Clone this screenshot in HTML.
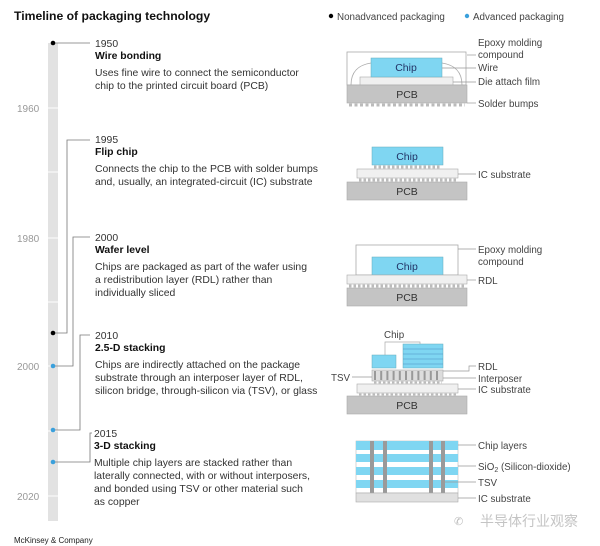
<!DOCTYPE html>
<html><head><meta charset="utf-8"><style>
html,body{margin:0;padding:0;background:#fff;}
svg{display:block;font-family:"Liberation Sans",Arial,sans-serif;}
.t{font-size:10.4px;fill:#333;}
.b{font-size:10.4px;font-weight:bold;fill:#111;}
.y{font-size:10px;fill:#999;}
.l{font-size:9.8px;fill:#444;}
</style></head><body>
<svg width="600" height="546" viewBox="0 0 600 546">
<text x="14" y="20" style="font-size:12.2px;font-weight:bold;fill:#111">Timeline of packaging technology</text>
<circle cx="331" cy="16" r="2.2" fill="#000"/><text x="337" y="20" class="l">Nonadvanced packaging</text>
<circle cx="467" cy="16" r="2.2" fill="#3aa0dc"/><text x="473" y="20" class="l">Advanced packaging</text>

<rect x="48" y="43" width="10" height="478" fill="#e2e2e2"/>
<g stroke="#fff" stroke-width="1"><line x1="48" y1="108" x2="58" y2="108"/><line x1="48" y1="172" x2="58" y2="172"/><line x1="48" y1="238" x2="58" y2="238"/><line x1="48" y1="302" x2="58" y2="302"/><line x1="48" y1="366" x2="58" y2="366"/><line x1="48" y1="431" x2="58" y2="431"/><line x1="48" y1="496" x2="58" y2="496"/></g>
<text x="17" y="112" class="y">1960</text>
<text x="17" y="242" class="y">1980</text>
<text x="17" y="370" class="y">2000</text>
<text x="17" y="500" class="y">2020</text>

<g stroke="#777" stroke-width="0.8" fill="none">
<polyline points="53,43 90,43"/>
<polyline points="90,140 67,140 67,333 53,333"/>
<polyline points="90,237 73,237 73,366 53,366"/>
<polyline points="90,335 80,335 80,430 53,430"/>
<polyline points="92,433 90,433 90,462 53,462"/>
</g>
<circle cx="53" cy="43" r="2.3" fill="#000"/>
<circle cx="53" cy="333" r="2.3" fill="#000"/>
<circle cx="53" cy="366" r="2.3" fill="#3aa0dc"/>
<circle cx="53" cy="430" r="2.3" fill="#3aa0dc"/>
<circle cx="53" cy="462" r="2.3" fill="#3aa0dc"/>

<text x="95" y="47" class="t">1950</text>
<text x="95" y="59" class="b">Wire bonding</text>
<text x="95" y="76" class="t">Uses fine wire to connect the semiconductor</text>
<text x="95" y="89" class="t">chip to the printed circuit board (PCB)</text>

<text x="95" y="143" class="t">1995</text>
<text x="95" y="155" class="b">Flip chip</text>
<text x="95" y="172" class="t">Connects the chip to the PCB with solder bumps</text>
<text x="95" y="185" class="t">and, usually, an integrated-circuit (IC) substrate</text>

<text x="95" y="241" class="t">2000</text>
<text x="95" y="253" class="b">Wafer level</text>
<text x="95" y="270" class="t">Chips are packaged as part of the wafer using</text>
<text x="95" y="283" class="t">a redistribution layer (RDL) rather than</text>
<text x="95" y="296" class="t">individually sliced</text>

<text x="95" y="339" class="t">2010</text>
<text x="95" y="351" class="b">2.5-D stacking</text>
<text x="95" y="368" class="t">Chips are indirectly attached on the package</text>
<text x="95" y="381" class="t">substrate through an interposer layer of RDL,</text>
<text x="95" y="394" class="t">silicon bridge, through-silicon via (TSV), or glass</text>

<text x="94" y="437" class="t">2015</text>
<text x="94" y="449" class="b">3-D stacking</text>
<text x="94" y="466" class="t">Multiple chip layers are stacked rather than</text>
<text x="94" y="479" class="t">laterally connected, with or without interposers,</text>
<text x="94" y="492" class="t">and bonded using TSV or other material such</text>
<text x="94" y="505" class="t">as copper</text>

<text x="14" y="543" style="font-size:8px;fill:#222">McKinsey &amp; Company</text>

<rect x="347" y="52" width="119" height="33" fill="#fff" stroke="#aaa" stroke-width="0.8"/>
<path d="M351,85 Q351,66 371,63" fill="none" stroke="#aaa" stroke-width="0.8"/>
<path d="M462,85 Q462,66 442,63" fill="none" stroke="#aaa" stroke-width="0.8"/>
<rect x="360" y="77" width="93" height="8" fill="#f0f0f0" stroke="#aaa" stroke-width="0.6"/>
<rect x="371" y="58" width="71" height="19" fill="#7fd6f2" stroke="#6ab" stroke-width="0.5"/>
<text x="406" y="71" class="l" text-anchor="middle" style="fill:#236;font-size:10.5px">Chip</text>
<rect x="347" y="85" width="120" height="18" fill="#c4c4c4" stroke="#aaa" stroke-width="0.6"/>
<text x="407" y="98" class="l" text-anchor="middle" style="fill:#333;font-size:10.5px">PCB</text>
<line x1="349" y1="105" x2="465" y2="105" stroke="#bbb" stroke-width="3" stroke-dasharray="3,2.5"/>

<rect x="372" y="147" width="71" height="18" fill="#7fd6f2" stroke="#6ab" stroke-width="0.5"/>
<text x="407" y="160" class="l" text-anchor="middle" style="fill:#236;font-size:10.5px">Chip</text>
<line x1="374" y1="167" x2="441" y2="167" stroke="#bbb" stroke-width="3" stroke-dasharray="2.5,2"/>
<rect x="357" y="169" width="101" height="9" fill="#f0f0f0" stroke="#aaa" stroke-width="0.6"/>
<line x1="359" y1="180" x2="456" y2="180" stroke="#bbb" stroke-width="3" stroke-dasharray="2.5,2"/>
<rect x="347" y="182" width="120" height="18" fill="#c4c4c4" stroke="#aaa" stroke-width="0.6"/>
<text x="407" y="195" class="l" text-anchor="middle" style="fill:#333;font-size:10.5px">PCB</text>

<rect x="356" y="245" width="102" height="30" fill="#fff" stroke="#aaa" stroke-width="0.8"/>
<rect x="372" y="257" width="71" height="18" fill="#7fd6f2" stroke="#6ab" stroke-width="0.5"/>
<text x="407" y="270" class="l" text-anchor="middle" style="fill:#236;font-size:10.5px">Chip</text>
<rect x="347" y="275" width="120" height="9" fill="#f0f0f0" stroke="#aaa" stroke-width="0.6"/>
<line x1="349" y1="286" x2="465" y2="286" stroke="#bbb" stroke-width="3" stroke-dasharray="2.5,2"/>
<rect x="347" y="288" width="120" height="18" fill="#c4c4c4" stroke="#aaa" stroke-width="0.6"/>
<text x="407" y="301" class="l" text-anchor="middle" style="fill:#333;font-size:10.5px">PCB</text>

<text x="384" y="338" class="l">Chip</text>
<polyline points="385,355 385,342 420,342 420,344" fill="none" stroke="#aaa" stroke-width="0.7"/>
<rect x="372" y="355" width="24" height="13" fill="#7fd6f2" stroke="#6ab" stroke-width="0.5"/>
<rect x="403" y="344" width="40" height="24" fill="#7fd6f2" stroke="#6ab" stroke-width="0.5"/>
<g stroke="#4a8fc0" stroke-width="0.6"><line x1="403" y1="349" x2="443" y2="349"/><line x1="403" y1="354" x2="443" y2="354"/><line x1="403" y1="359" x2="443" y2="359"/><line x1="403" y1="364" x2="443" y2="364"/></g>
<rect x="372" y="370" width="71" height="11" fill="#ddd" stroke="#aaa" stroke-width="0.6"/>
<line x1="374" y1="375.5" x2="442" y2="375.5" stroke="#999" stroke-width="9" stroke-dasharray="2,4.2"/>
<line x1="352" y1="377" x2="372" y2="377" stroke="#999" stroke-width="0.7"/>
<line x1="374" y1="382.5" x2="442" y2="382.5" stroke="#bbb" stroke-width="2" stroke-dasharray="2.5,2"/>
<rect x="357" y="384" width="101" height="9" fill="#f0f0f0" stroke="#aaa" stroke-width="0.6"/>
<line x1="359" y1="394.5" x2="456" y2="394.5" stroke="#bbb" stroke-width="2" stroke-dasharray="2.5,2"/>
<rect x="347" y="396" width="120" height="18" fill="#c4c4c4" stroke="#aaa" stroke-width="0.6"/>
<text x="407" y="409" class="l" text-anchor="middle" style="fill:#333;font-size:10.5px">PCB</text>
<text x="331" y="381" class="l">TSV</text>

<rect x="356" y="441" width="102" height="52" fill="#fff" stroke="#aaa" stroke-width="0.5"/>
<g fill="#7fd6f2"><rect x="356" y="441" width="102" height="9"/><rect x="356" y="454" width="102" height="8"/><rect x="356" y="467" width="102" height="8"/><rect x="356" y="480" width="102" height="8"/></g>
<g fill="#9a9a9a"><rect x="370" y="441" width="4" height="52"/><rect x="383" y="441" width="4" height="52"/><rect x="429" y="441" width="4" height="52"/><rect x="441" y="441" width="4" height="52"/></g>
<rect x="356" y="493" width="102" height="9" fill="#e0e0e0" stroke="#aaa" stroke-width="0.6"/>

<g stroke="#999" stroke-width="0.7">
<line x1="467" y1="55" x2="476" y2="55"/><line x1="442" y1="68" x2="476" y2="68"/><line x1="453" y1="82" x2="476" y2="82"/><line x1="467" y1="103" x2="476" y2="103"/>
<line x1="458" y1="174" x2="476" y2="174"/>
<line x1="458" y1="249" x2="476" y2="249"/><line x1="467" y1="280" x2="476" y2="280"/>
<polyline points="443,371 469,371 469,366 476,366" fill="none"/><line x1="443" y1="378" x2="476" y2="378"/><line x1="458" y1="389" x2="476" y2="389"/>
<line x1="458" y1="445" x2="476" y2="445"/><line x1="458" y1="466" x2="476" y2="466"/><line x1="445" y1="482" x2="476" y2="482"/><line x1="458" y1="498" x2="476" y2="498"/>
</g>
<text x="478" y="46" class="l">Epoxy molding</text>
<text x="478" y="58" class="l">compound</text>
<text x="478" y="71" class="l">Wire</text>
<text x="478" y="85" class="l">Die attach film</text>
<text x="478" y="107" class="l">Solder bumps</text>
<text x="478" y="178" class="l">IC substrate</text>
<text x="478" y="253" class="l">Epoxy molding</text>
<text x="478" y="265" class="l">compound</text>
<text x="478" y="284" class="l">RDL</text>
<text x="478" y="370" class="l">RDL</text>
<text x="478" y="382" class="l">Interposer</text>
<text x="478" y="393" class="l">IC substrate</text>
<text x="478" y="449" class="l">Chip layers</text>
<text x="478" y="470" class="l">SiO<tspan style="font-size:7px" dy="2">2</tspan><tspan dy="-2"> (Silicon-dioxide)</tspan></text>
<text x="478" y="486" class="l">TSV</text>
<text x="478" y="502" class="l">IC substrate</text>

<text x="454" y="525" style="font-size:11px;fill:#bbb">✆</text>
<text x="480" y="526" style="font-family:'Liberation Sans','Noto Sans CJK SC',sans-serif;font-size:14px;fill:#c4c4c4">半导体行业观察</text>
</svg>
</body></html>
